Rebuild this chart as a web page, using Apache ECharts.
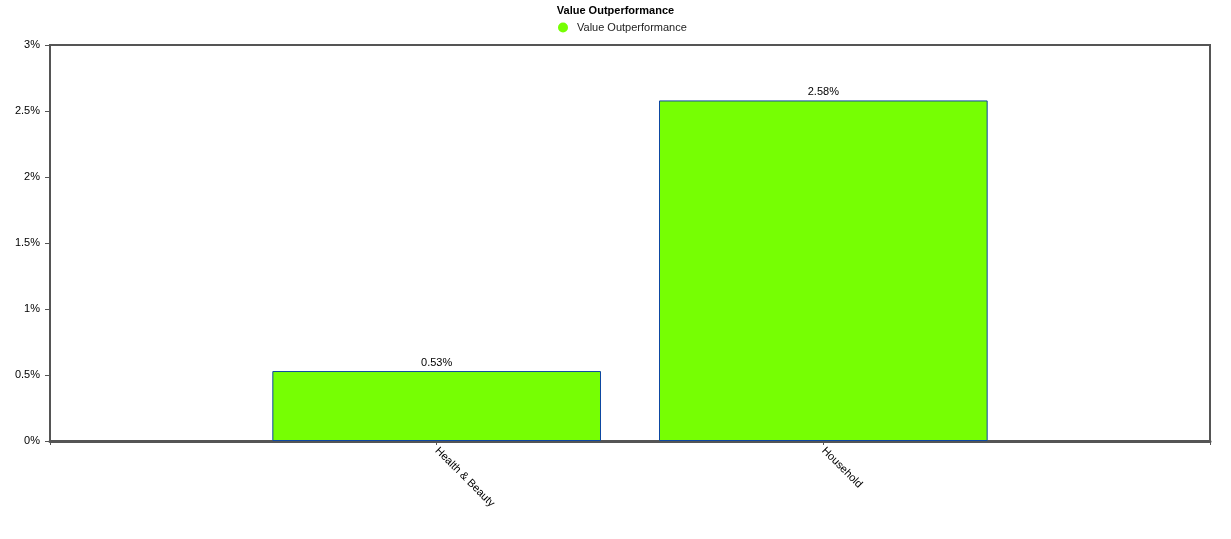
<!DOCTYPE html>
<html><head><meta charset="utf-8">
<script src="https://cdn.jsdelivr.net/npm/echarts@6/dist/echarts.min.js"></script>
<style>html,body{margin:0;padding:0;background:#fff}#c{width:1231px;height:539px}</style>
</head><body><div id="c"></div>
<script>
const categories = ['', 'Health & Beauty', 'Household', ''];
const values = [null, 0.53, 2.58, null];
const yTicks = [0, 0.5, 1, 1.5, 2, 2.5, 3];
const chart = echarts.init(document.getElementById('c'));
const F = 'Liberation Sans, Arial, sans-serif';
chart.setOption({
  animation: false,
  title: {text: 'Value Outperformance', left: 'center', top: 0,
    textStyle: {fontFamily: F, fontSize: 11, fontWeight: 'bold', color: '#000'}},
  legend: {top: 17, left: 553, icon: 'circle', itemWidth: 18, itemHeight: 10,
    itemStyle: {borderWidth: 0, color: '#76FF03'},
    textStyle: {fontFamily: F, fontSize: 11, color: '#222'}, data: ['Value Outperformance']},
  grid: {left: 50, right: 21, top: 45, bottom: 98, show: true, borderColor: '#555', borderWidth: 2, backgroundColor: '#fff'},
  xAxis: {type: 'category', data: categories, boundaryGap: false,
    axisLine: {lineStyle: {color: '#555', width: 3}},
    axisTick: {show: true, length: 4, lineStyle: {color: '#555'}},
    axisLabel: {rotate: -45, fontFamily: F, fontSize: 11, color: '#000', margin: 8, interval: 0},
    splitLine: {show: false}},
  yAxis: {type: 'value', min: yTicks[0], max: yTicks[yTicks.length-1], interval: 0.5,
    axisLine: {show: true, lineStyle: {color: '#555', width: 2}},
    axisTick: {show: true, length: 5, lineStyle: {color: '#555'}},
    axisLabel: {formatter: v => v + '%', fontFamily: F, fontSize: 11, color: '#000', margin: 10},
    splitLine: {show: false}},
  series: [{name: 'Value Outperformance', type: 'bar', data: values, barWidth: '85%',
    itemStyle: {color: '#76FF03', borderColor: '#0D47A1', borderWidth: 1},
    label: {show: true, position: 'top', formatter: p => p.value + '%', fontFamily: F, fontSize: 11, color: '#000', distance: 3}}]
});
</script></body></html>
